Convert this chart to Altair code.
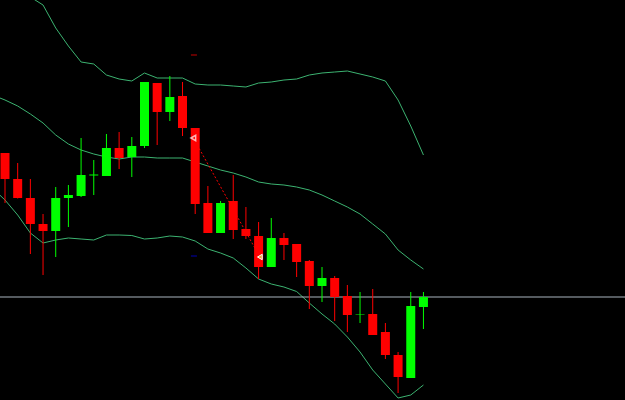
import altair as alt
import pandas as pd

# Candle OHLC (price units; chart shows no axis)
opens  = [247, 221, 202, 176, 169, 202, 204, 224.5, 224, 252, 243, 254, 317, 288, 304, 272, 197, 167, 199, 171, 164, 133, 162, 156, 139, 114, 122, 104, 85.5, 86, 68, 45, 22, 93]
highs  = [247, 237, 221, 186, 213, 215, 262, 240, 266, 268, 263, 318, 317, 324, 318, 272, 214, 199, 225, 193, 178, 182, 167, 156, 140, 133, 124, 115, 108, 111, 77, 48, 108, 108]
lows   = [197, 201.5, 146, 125, 143, 173, 203, 205, 224, 231, 223, 252, 255, 279, 264, 186, 167, 167, 161, 161, 121, 133, 140, 123, 91, 98, 79, 68, 77, 65, 41, 7, 22, 71]
closes = [221, 202, 176, 169, 202, 205, 225, 225.5, 252, 242, 254, 318, 288, 303, 272, 196, 167, 197, 170, 164, 133, 162, 155, 138, 114, 122, 103, 85, 86, 65, 45, 23, 94, 103]

# Bollinger bands (index -1 .. 33)
band_idx = list(range(-1, 34))
upper  = [470, 445, 425, 403, 395, 372, 354, 338, 336, 325, 321, 319, 327, 322, 322, 322, 316, 315, 315, 314, 313, 317, 318, 320, 321, 325, 327, 328, 329, 326, 323, 319, 300, 274, 245]
middle = [305, 300, 294, 286, 277, 265, 256, 250, 246, 243, 241, 243, 243, 242, 242, 242, 238, 234, 230, 227, 223, 218, 216, 215, 213, 210, 205, 199, 193, 186, 176, 166, 150, 140, 131]
lower  = [212, 200, 185, 167, 157, 160, 162, 161, 160, 165, 165, 164.5, 161, 162, 164, 163, 159, 151, 147, 142, 132, 121, 116, 113, 108.5, 97, 86, 76, 63, 48, 30, 16, 2, 5, 15]

bid_price = 103

# Trade objects
trade_x = [14.85, 20.1]
trade_y = [262, 143]
sl_tp_x = [14.9, 14.9]
sl_tp_y = [345, 144]
sl_tp_color = ["#8B0000", "#000080"]

n = len(opens)
candles = pd.DataFrame({
    "i": list(range(n)),
    "open": opens, "high": highs, "low": lows, "close": closes,
})
candles["dir"] = ["up" if c >= o else "down" for o, c in zip(opens, closes)]

bands = pd.DataFrame({"i": band_idx * 3,
                      "v": upper + middle + lower,
                      "band": ["upper"] * len(band_idx) + ["middle"] * len(band_idx) + ["lower"] * len(band_idx)})

x_scale = alt.Scale(domain=[-5 / 12.68, 620 / 12.68], nice=False, zero=False, padding=0)
y_scale = alt.Scale(domain=[0, 400], nice=False, zero=False, padding=0)
color_scale = alt.Scale(domain=["up", "down"], range=["#00FF00", "#FF0000"])

band_lines = alt.Chart(bands).mark_line(strokeWidth=1, color="#3CB371", clip=True).encode(
    x=alt.X("i:Q", scale=x_scale, axis=None),
    y=alt.Y("v:Q", scale=y_scale, axis=None),
    detail="band:N",
)

bid = alt.Chart(pd.DataFrame({"p": [bid_price]})).mark_rule(color="#A9B4BE", strokeWidth=1).encode(
    y=alt.Y("p:Q", scale=y_scale, axis=None),
)

wicks = alt.Chart(candles).mark_rule(strokeWidth=1).encode(
    x=alt.X("i:Q", scale=x_scale, axis=None),
    y=alt.Y("low:Q", scale=y_scale, axis=None),
    y2="high:Q",
    color=alt.Color("dir:N", scale=color_scale, legend=None),
)

bodies = alt.Chart(candles).mark_bar(size=9).encode(
    x=alt.X("i:Q", scale=x_scale, axis=None),
    y=alt.Y("open:Q", scale=y_scale, axis=None),
    y2="close:Q",
    color=alt.Color("dir:N", scale=color_scale, legend=None),
)

trade_df = pd.DataFrame({"x": trade_x, "y": trade_y})
trade_line = alt.Chart(trade_df).mark_line(color="#FF0000", strokeWidth=1, strokeDash=[2, 2]).encode(
    x=alt.X("x:Q", scale=x_scale, axis=None),
    y=alt.Y("y:Q", scale=y_scale, axis=None),
)

m1 = alt.Chart(pd.DataFrame({"x": [trade_x[0]], "y": [trade_y[0]]})).mark_point(
    shape="triangle-left", size=30, filled=False, stroke="white", strokeWidth=1.5
).encode(x=alt.X("x:Q", scale=x_scale, axis=None), y=alt.Y("y:Q", scale=y_scale, axis=None))

m2 = alt.Chart(pd.DataFrame({"x": [trade_x[1]], "y": [trade_y[1]]})).mark_point(
    shape="triangle-left", size=30, filled=True, fill="#F0A030", stroke="white", strokeWidth=1, opacity=1
).encode(x=alt.X("x:Q", scale=x_scale, axis=None), y=alt.Y("y:Q", scale=y_scale, axis=None))

sltp_df = pd.DataFrame({"x": sl_tp_x, "y": sl_tp_y, "c": sl_tp_color})
sltp = alt.Chart(sltp_df).mark_tick(size=6, thickness=2, orient="horizontal").encode(
    x=alt.X("x:Q", scale=x_scale, axis=None),
    y=alt.Y("y:Q", scale=y_scale, axis=None),
    color=alt.Color("c:N", scale=None),
)

chart = alt.layer(band_lines, bid, wicks, bodies, trade_line, m1, m2, sltp).properties(
    width=625, height=400, background="black", padding=0,
    autosize=alt.AutoSizeParams(type="none"),
).configure_view(stroke=None)

chart.save("out.html", embed_options={"renderer": "svg", "actions": False})
